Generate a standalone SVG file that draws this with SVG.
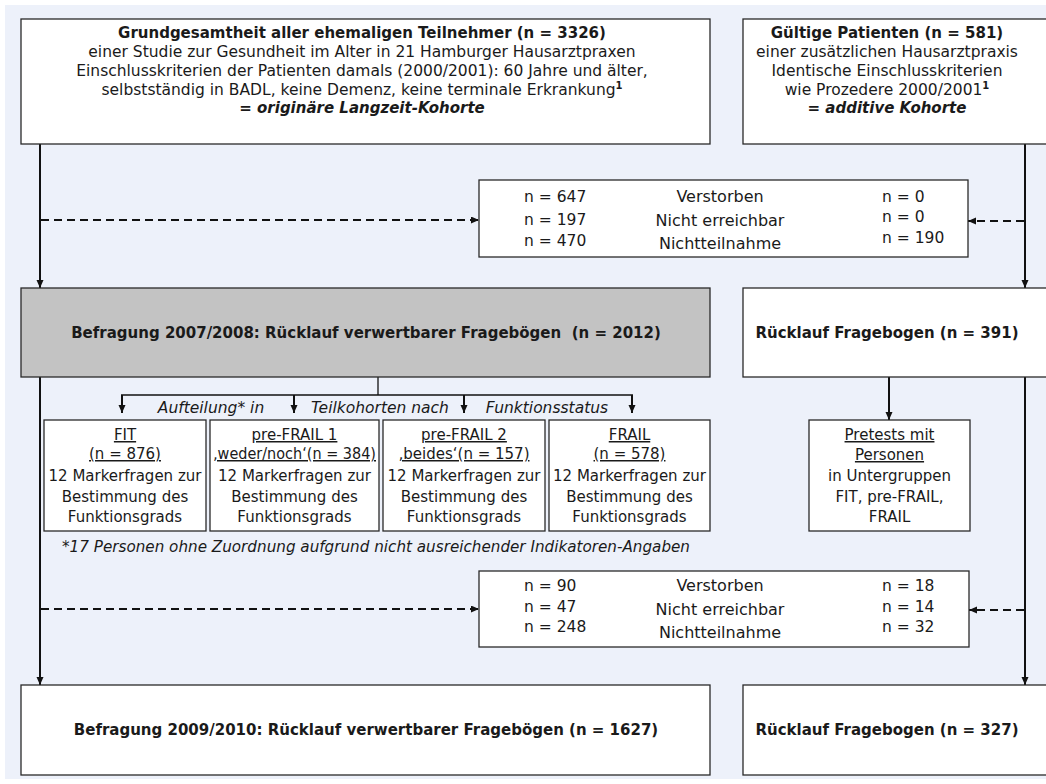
<svg xmlns="http://www.w3.org/2000/svg" width="1046" height="784" viewBox="0 0 1046 784">
<defs>
<marker id="ah" markerWidth="9" markerHeight="8" refX="8" refY="3.5" orient="auto" markerUnits="userSpaceOnUse">
<path d="M0,0 L8,3.5 L0,7 z" fill="#111"/>
</marker>
<style>
.box{fill:#fff;stroke:#2a2a2a;stroke-width:1.3}
.gray{fill:#c3c3c3;stroke:#2a2a2a;stroke-width:1.3}
text{font-family:"DejaVu Sans","Liberation Sans",sans-serif;font-size:15.5px;fill:#1a1a1a}
.c{text-anchor:middle}
.b{font-weight:bold;font-size:15px}
.bi{font-weight:bold;font-style:italic;font-size:15px}
.i{font-style:italic}
.s{font-size:15px}
.m{font-size:16px}
.u{text-decoration:underline}
.sup{font-size:10px;font-weight:bold}
.ln{stroke:#111;stroke-width:2;fill:none}
.dash{stroke:#111;stroke-width:2;fill:none;stroke-dasharray:8 5}
.thin{stroke:#111;stroke-width:1.3;fill:none}
</style>
</defs>
<rect x="0" y="0" width="1046" height="784" fill="#fff"/>
<rect x="5" y="5" width="1041" height="774" fill="#edf1fa"/>

<g id="connectors">
<line class="ln" x1="40" y1="144" x2="40" y2="288" marker-end="url(#ah)"/>
<line class="ln" x1="40" y1="377" x2="40" y2="685" marker-end="url(#ah)"/>
<line class="ln" x1="1025" y1="144" x2="1025" y2="288" marker-end="url(#ah)"/>
<line class="ln" x1="1025" y1="377" x2="1025" y2="685" marker-end="url(#ah)"/>
<line class="dash" x1="41" y1="220" x2="479" y2="220" marker-end="url(#ah)"/>
<line class="dash" x1="1024" y1="221" x2="968" y2="221" marker-end="url(#ah)"/>
<line class="dash" x1="41" y1="609" x2="479" y2="609" marker-end="url(#ah)"/>
<line class="dash" x1="1024" y1="610" x2="969" y2="610" marker-end="url(#ah)"/>
<line class="thin" x1="378" y1="377" x2="378" y2="395"/>
<line class="thin" x1="121" y1="395" x2="633" y2="395"/>
<line class="ln" x1="122" y1="395" x2="122" y2="413" marker-end="url(#ah)"/>
<line class="ln" x1="294" y1="395" x2="294" y2="413" marker-end="url(#ah)"/>
<line class="ln" x1="464" y1="395" x2="464" y2="413" marker-end="url(#ah)"/>
<line class="ln" x1="632" y1="395" x2="632" y2="413" marker-end="url(#ah)"/>
<line class="ln" x1="889" y1="377" x2="889" y2="420" marker-end="url(#ah)"/>
<text class="i c" x="211" y="413">Aufteilung* in</text>
<text class="i c" x="380" y="413">Teilkohorten nach</text>
<text class="i c" x="547" y="413">Funktionsstatus</text>
</g>

<g id="kohorte-original">
<rect class="box" x="21" y="19" width="689" height="125"/>
<text class="b c" x="362" y="38">Grundgesamtheit aller ehemaligen Teilnehmer (n = 3326)</text>
<text class="c" x="362" y="57">einer Studie zur Gesundheit im Alter in 21 Hamburger Hausarztpraxen</text>
<text class="c" x="362" y="76">Einschlusskriterien der Patienten damals (2000/2001): 60 Jahre und älter,</text>
<text class="c" x="362" y="95">selbstständig in BADL, keine Demenz, keine terminale Erkrankung<tspan class="sup" dy="-6">1</tspan></text>
<text class="bi c" x="362" y="113">= originäre Langzeit-Kohorte</text>
</g>

<g id="kohorte-additiv">
<rect class="box" x="743" y="19" width="310" height="125"/>
<text class="b c" x="887" y="38">Gültige Patienten (n = 581)</text>
<text class="c" x="887" y="57">einer zusätzlichen Hausarztpraxis</text>
<text class="c" x="887" y="76">Identische Einschlusskriterien</text>
<text class="c" x="887" y="95">wie Prozedere 2000/2001<tspan class="sup" dy="-6">1</tspan></text>
<text class="bi c" x="887" y="113">= additive Kohorte</text>
</g>

<g id="ausfall-1">
<rect class="box" x="479" y="180" width="489" height="77"/>
<text x="524" y="202">n = 647</text>
<text x="524" y="225">n = 197</text>
<text x="524" y="246">n = 470</text>
<text class="c m" x="720" y="202">Verstorben</text>
<text class="c m" x="720" y="226">Nicht erreichbar</text>
<text class="c m" x="720" y="249">Nichtteilnahme</text>
<text x="882" y="202">n = 0</text>
<text x="882" y="222">n = 0</text>
<text x="882" y="243">n = 190</text>
</g>

<g id="befragung-2007">
<rect class="gray" x="21" y="288" width="689" height="89"/>
<text class="b c" x="366" y="338">Befragung 2007/2008: Rücklauf verwertbarer Fragebögen&#160; (n = 2012)</text>
</g>

<g id="ruecklauf-391">
<rect class="box" x="743" y="288" width="310" height="89"/>
<text class="b c" x="887" y="338">Rücklauf Fragebogen (n = 391)</text>
</g>

<g id="fit">
<rect class="box" x="44" y="420" width="162" height="111"/>
<text class="s c u" x="125" y="440">FIT</text>
<text class="s c u" x="125" y="459">(n = 876)</text>
<text class="s c" x="125" y="481">12 Markerfragen zur</text>
<text class="s c" x="125" y="502">Bestimmung des</text>
<text class="s c" x="125" y="522">Funktionsgrads</text>
</g>

<g id="prefrail-1">
<rect class="box" x="210" y="420" width="169" height="111"/>
<text class="s c u" x="294.5" y="440">pre-FRAIL 1</text>
<text class="s c u" x="294.5" y="459" textLength="163" lengthAdjust="spacingAndGlyphs">‚weder/noch‘(n = 384)</text>
<text class="s c" x="294.5" y="481">12 Markerfragen zur</text>
<text class="s c" x="294.5" y="502">Bestimmung des</text>
<text class="s c" x="294.5" y="522">Funktionsgrads</text>
</g>

<g id="prefrail-2">
<rect class="box" x="383" y="420" width="162" height="111"/>
<text class="s c u" x="464" y="440">pre-FRAIL 2</text>
<text class="s c u" x="464" y="459">‚beides‘(n = 157)</text>
<text class="s c" x="464" y="481">12 Markerfragen zur</text>
<text class="s c" x="464" y="502">Bestimmung des</text>
<text class="s c" x="464" y="522">Funktionsgrads</text>
</g>

<g id="frail">
<rect class="box" x="549" y="420" width="161" height="111"/>
<text class="s c u" x="629.5" y="440">FRAIL</text>
<text class="s c u" x="629.5" y="459">(n = 578)</text>
<text class="s c" x="629.5" y="481">12 Markerfragen zur</text>
<text class="s c" x="629.5" y="502">Bestimmung des</text>
<text class="s c" x="629.5" y="522">Funktionsgrads</text>
</g>

<g id="pretests">
<rect class="box" x="809" y="420" width="161" height="111"/>
<text class="s c u" x="889.5" y="440">Pretests mit</text>
<text class="s c u" x="889.5" y="460">Personen</text>
<text class="s c" x="889.5" y="481">in Untergruppen</text>
<text class="s c" x="889.5" y="502">FIT, pre-FRAIL,</text>
<text class="s c" x="889.5" y="522">FRAIL</text>
</g>

<g id="fussnote">
<text class="i" x="62" y="552" textLength="628" lengthAdjust="spacingAndGlyphs">*17 Personen ohne Zuordnung aufgrund nicht ausreichender Indikatoren-Angaben</text>
</g>

<g id="ausfall-2">
<rect class="box" x="479" y="571" width="490" height="76"/>
<text x="524" y="591">n = 90</text>
<text x="524" y="612">n = 47</text>
<text x="524" y="632">n = 248</text>
<text class="c m" x="720" y="591">Verstorben</text>
<text class="c m" x="720" y="615">Nicht erreichbar</text>
<text class="c m" x="720" y="638">Nichtteilnahme</text>
<text x="882" y="591">n = 18</text>
<text x="882" y="612">n = 14</text>
<text x="882" y="632">n = 32</text>
</g>

<g id="befragung-2009">
<rect class="box" x="21" y="685" width="689" height="90"/>
<text class="b c" x="366" y="735">Befragung 2009/2010: Rücklauf verwertbarer Fragebögen (n = 1627)</text>
</g>

<g id="ruecklauf-327">
<rect class="box" x="743" y="685" width="310" height="90"/>
<text class="b c" x="887" y="735">Rücklauf Fragebogen (n = 327)</text>
</g>
</svg>
